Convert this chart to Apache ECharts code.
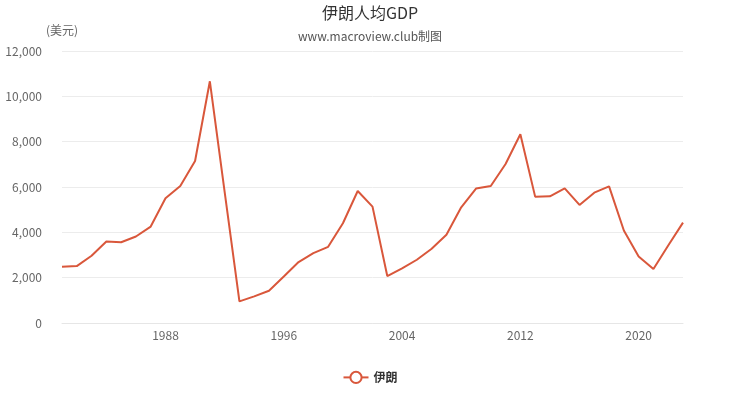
<!DOCTYPE html>
<html>
<head>
<meta charset="utf-8">
<script src="https://cdn.jsdelivr.net/npm/echarts@6/dist/echarts.min.js"></script>
<style>
html,body{margin:0;padding:0;background:#fff;}
#main{width:740px;height:394px;}
</style>
</head>
<body>
<div id="main"></div>
<script>
const years = ['1981','1982','1983','1984','1985','1986','1987','1988','1989','1990',
  '1991','1992','1993','1994','1995','1996','1997','1998','1999','2000',
  '2001','2002','2003','2004','2005','2006','2007','2008','2009','2010',
  '2011','2012','2013','2014','2015','2016','2017','2018','2019','2020',
  '2021','2022','2023'];
const gdpPerCapita = [2480, 2510, 2965, 3595, 3565, 3815, 4255, 5500, 6045, 7145,
  10665, 5790, 955, 1175, 1425, 2055, 2690, 3080, 3360, 4400,
  5825, 5135, 2070, 2410, 2790, 3275, 3890, 5105, 5930, 6045,
  7015, 8330, 5575, 5590, 5940, 5210, 5750, 6030, 4080, 2935,
  2380, 3420, 4430];
const labelYears = ['1988','1996','2004','2012','2020'];
const seriesName = '伊朗';

const chart = echarts.init(document.getElementById('main'));
const font = '"Microsoft YaHei","Noto Sans CJK SC","Noto Sans",sans-serif';
chart.setOption({
  animation: false,
  title: {
    text: '伊朗人均GDP',
    subtext: 'www.macroview.club制图',
    left: 'center',
    top: 0,
    itemGap: 9,
    textStyle: {fontSize: 16, fontWeight: 'normal', color: '#333', fontFamily: font},
    subtextStyle: {fontSize: 12, color: '#555', fontFamily: font}
  },
  legend: {
    bottom: 5,
    left: 'center',
    itemWidth: 25,
    itemHeight: 14,
    data: [seriesName],
    textStyle: {fontWeight: 'bold', color: '#333', fontSize: 12, fontFamily: font}
  },
  grid: {left: 62, right: 57, top: 51, bottom: 71},
  xAxis: {
    type: 'category',
    data: years,
    boundaryGap: false,
    axisTick: {show: false},
    axisLine: {lineStyle: {color: '#e6e6e6'}},
    axisLabel: {
      color: '#666', fontSize: 12, margin: 6, fontFamily: font,
      interval: function (idx, val) { return labelYears.indexOf(val) >= 0; }
    },
    splitLine: {show: false}
  },
  yAxis: {
    type: 'value',
    min: 0, max: 12000, interval: 2000,
    name: '(美元)',
    nameGap: 15,
    nameTextStyle: {color: '#666', fontSize: 12, fontFamily: font, align: 'center'},
    axisLine: {show: false},
    axisTick: {show: false},
    axisLabel: {color: '#666', fontSize: 12, margin: 20, fontFamily: font},
    splitLine: {lineStyle: {color: '#ececec'}}
  },
  series: [{
    name: seriesName,
    type: 'line',
    data: gdpPerCapita,
    symbol: 'emptyCircle',
    symbolSize: 8,
    showSymbol: false,
    lineStyle: {width: 2, color: '#d9573b'},
    itemStyle: {color: '#d9573b'}
  }]
});
</script>
</body>
</html>
